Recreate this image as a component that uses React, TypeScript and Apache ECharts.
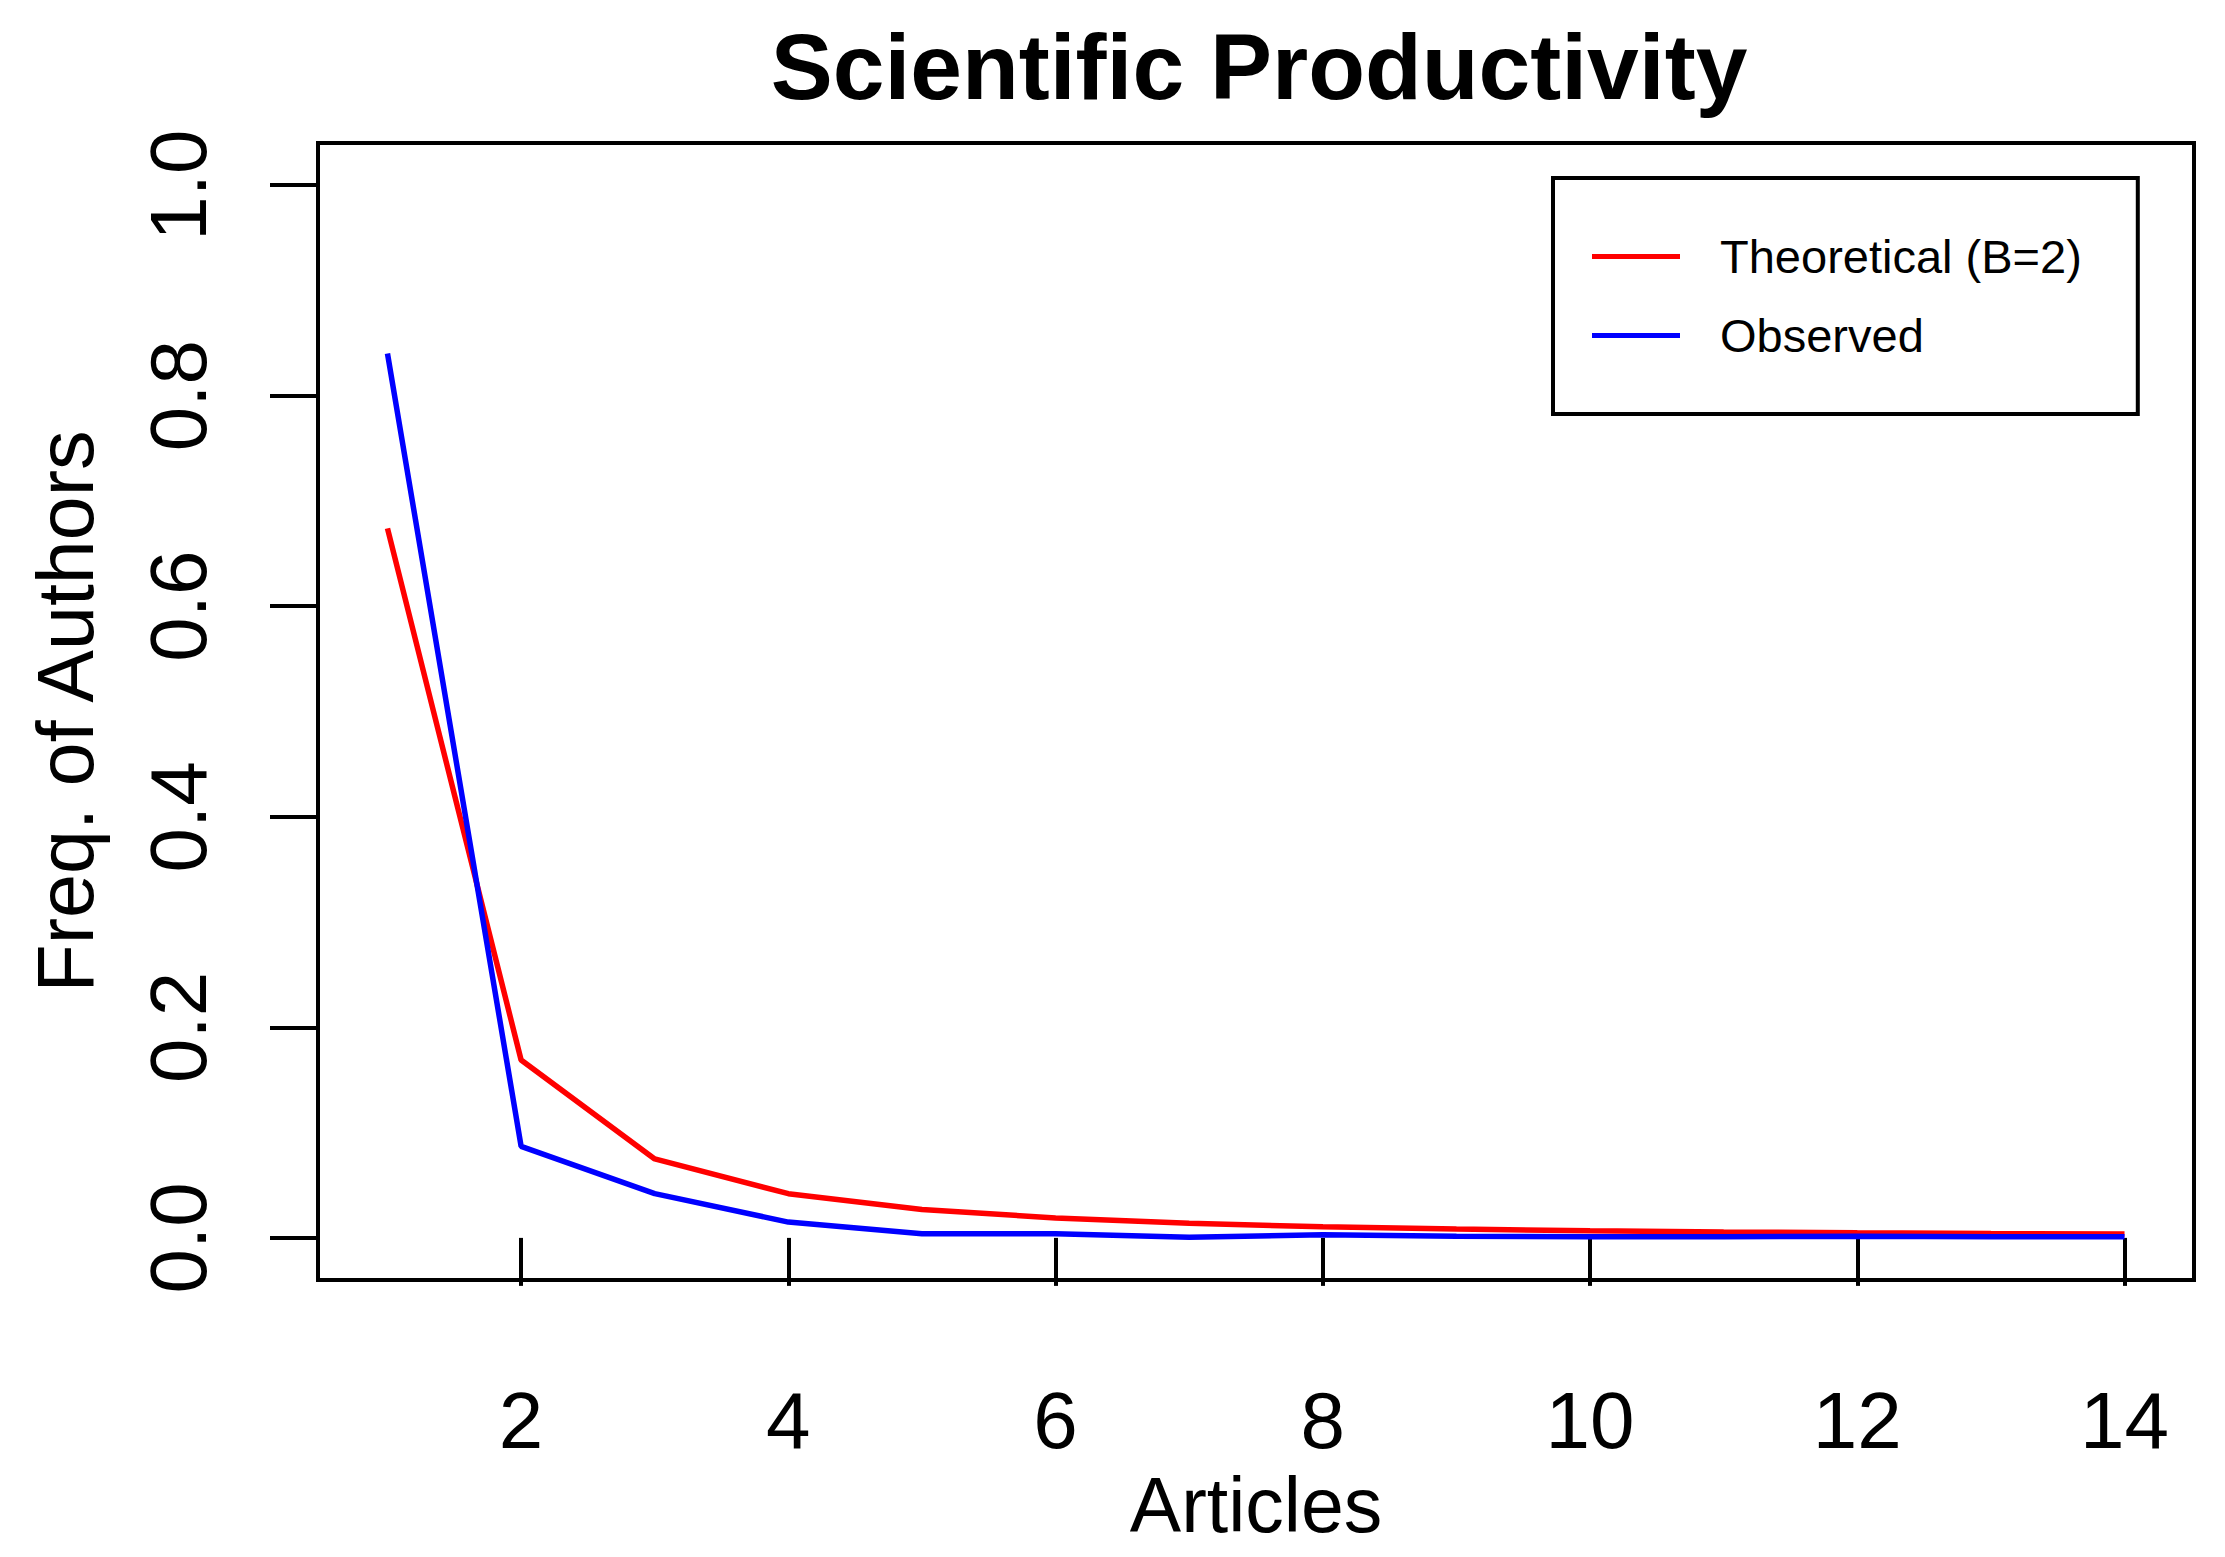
import React, { useEffect, useRef } from "react";
import * as echarts from "echarts";

const articles = [1, 2, 3, 4, 5, 6, 7, 8, 9, 10, 11, 12, 13, 14];
const theoretical = [0.674, 0.169, 0.075, 0.042, 0.027, 0.019, 0.0138, 0.0105, 0.0084, 0.0068, 0.0057, 0.0048, 0.0041, 0.0036];
const observed = [0.84, 0.087, 0.042, 0.015, 0.004, 0.004, 0.0005, 0.003, 0.0015, 0.001, 0.0012, 0.0015, 0.0012, 0.001];
const xTicks = [2, 4, 6, 8, 10, 12, 14];
const yTicks = [0, 0.2, 0.4, 0.6, 0.8, 1.0];

const seriesNames = ["Theoretical (B=2)", "Observed"];
const FONT = "'Liberation Sans', Arial, Helvetica, sans-serif";

export default function App() {
  const ref = useRef<HTMLDivElement>(null);
  useEffect(() => {
    if (!ref.current) return;
    const chart = echarts.init(ref.current, null, { renderer: "svg" });
    chart.setOption({
      animation: false,
      backgroundColor: "#ffffff",
      textStyle: { fontFamily: FONT },
      title: {
        text: "Scientific Productivity",
        left: 1254,
        top: 15,
        textAlign: "center",
        textStyle: { fontFamily: FONT, fontSize: 93, fontWeight: "bold", color: "#000" },
      },
      legend: {
        orient: "vertical",
        left: 1553,
        top: 178,
        data: seriesNames,
        icon: "rect",
        itemWidth: 88,
        itemHeight: 5,
        itemGap: 32,
        borderColor: "#000",
        borderWidth: 4,
        borderRadius: 0,
        padding: [55, 56, 55, 39],
        textStyle: { fontFamily: FONT, fontSize: 47, color: "#000", padding: [0, 0, 0, 35] },
      },
      grid: {
        left: 318,
        top: 143,
        width: 1876,
        height: 1137,
        show: true,
        borderColor: "#000",
        borderWidth: 4,
        backgroundColor: "transparent",
        containLabel: false,
      },
      xAxis: {
        type: "value",
        min: 0.48,
        max: 14.52,
        name: "Articles",
        nameLocation: "middle",
        nameGap: 186,
        nameTextStyle: { fontFamily: FONT, fontSize: 77, color: "#000" },
        axisLine: { show: false },
        splitLine: { show: false },
        axisTick: { show: true, length: 48, lineStyle: { color: "#000", width: 4 }, customValues: xTicks },
        axisLabel: {
          show: true,
          margin: 100,
          fontFamily: FONT,
          fontSize: 80,
          color: "#000",
          customValues: xTicks,
          formatter: (v: number) => String(v),
        },
      },
      yAxis: {
        type: "value",
        min: -0.04,
        max: 1.04,
        name: "Freq. of Authors",
        nameLocation: "middle",
        nameGap: 213,
        nameRotate: 90,
        nameTextStyle: { fontFamily: FONT, fontSize: 79, color: "#000" },
        axisLine: { show: false },
        splitLine: { show: false },
        axisTick: { show: true, length: 48, lineStyle: { color: "#000", width: 4 }, customValues: yTicks },
        axisLabel: {
          show: true,
          rotate: 90,
          margin: 100,
          fontFamily: FONT,
          fontSize: 80,
          color: "#000",
          customValues: yTicks,
          formatter: (v: number) => v.toFixed(1),
        },
      },
      series: [
        {
          name: seriesNames[0],
          type: "line",
          data: articles.map((a, i) => [a, theoretical[i]]),
          symbol: "none",
          lineStyle: { color: "#ff0000", width: 5.5 },
          itemStyle: { color: "#ff0000" },
          z: 2,
        },
        {
          name: seriesNames[1],
          type: "line",
          data: articles.map((a, i) => [a, observed[i]]),
          symbol: "none",
          lineStyle: { color: "#0000ff", width: 5.5 },
          itemStyle: { color: "#0000ff" },
          z: 3,
        },
      ],
    });
    return () => chart.dispose();
  }, []);
  return (
    <div
      ref={ref}
      style={{ position: "absolute", left: 0, top: 0, width: 2225, height: 1557, background: "#fff" }}
    />
  );
}
